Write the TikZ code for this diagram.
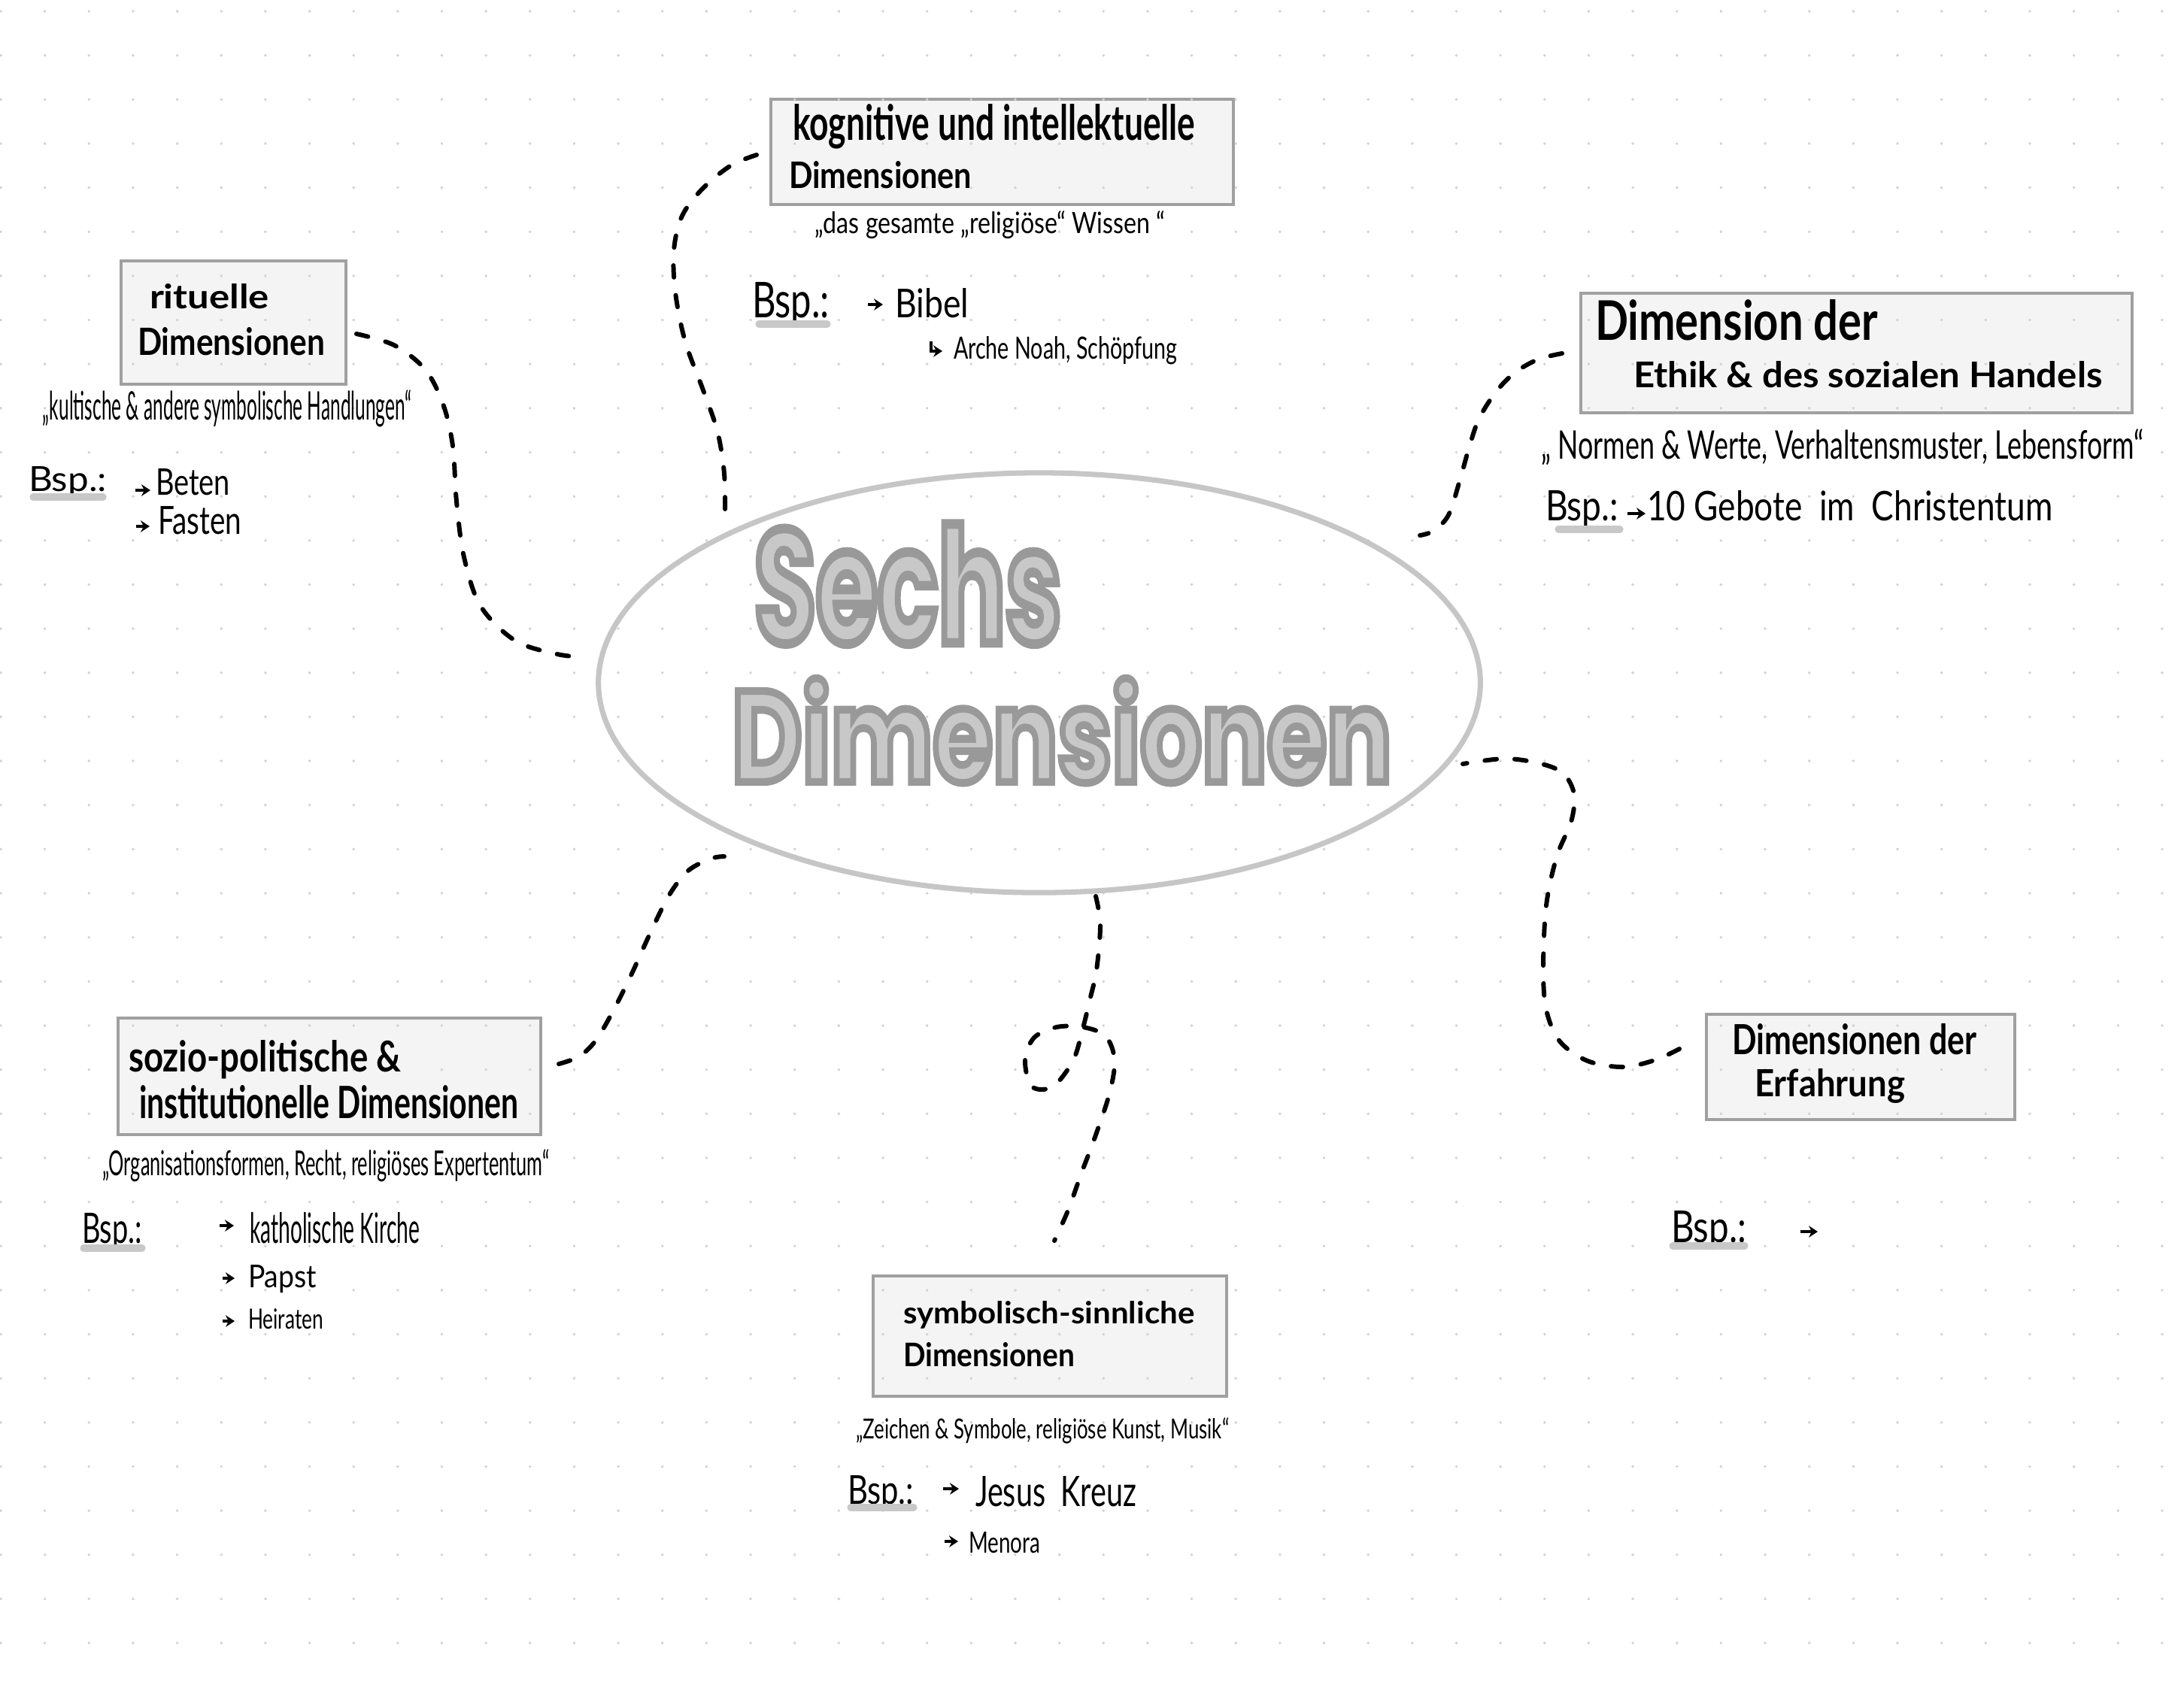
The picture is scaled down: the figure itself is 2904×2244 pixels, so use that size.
\documentclass[tikz,border=0pt]{standalone}
\usepackage{fontspec}
\setmainfont{Lato}
\newfontfamily\bubblefont{Poppins}[FakeBold=6]
\usepackage{graphicx}
\usetikzlibrary{shapes.geometric,fit,arrows.meta}
\newlength\pxu \setlength\pxu{0.1mm}
\newcommand\hw[3]{\resizebox{#1\pxu}{#2\pxu}{#3}}
\newcommand\hb[3]{\resizebox{#1\pxu}{#2\pxu}{\bfseries #3}}
\newcommand\bubbletext[1]{{\fontsize{40}{40}\selectfont\bubblefont\bfseries\special{pdf:bcolor [0.784] [0.6]}#1\special{pdf:ecolor}}}
\definecolor{boxfill}{HTML}{F4F4F4}
\definecolor{boxline}{HTML}{A0A0A0}
\definecolor{dotc}{HTML}{D2D2D2}
\definecolor{ellc}{HTML}{C6C6C6}
\definecolor{barc}{HTML}{C8C8C8}
\tikzset{
 box/.style={draw=boxline, fill=boxfill, line width=0.9pt, inner sep=0pt, rectangle},
 hand/.style={anchor=base west, inner sep=0pt, outer sep=0pt, text=black},
 conn/.style={line width=1.7pt, line cap=round, dash pattern=on 4.5pt off 6.8pt},
 bar/.style={line width=2.6pt, line cap=round, draw=barc},
 barrow/.style={line width=0.95pt, -{Stealth[length=3.4pt,width=4.4pt]}},
}
\begin{document}
\begin{tikzpicture}[x=0.01cm,y=-0.01cm]
\useasboundingbox (0,0) rectangle (2904,2244);
\fill[white] (0,0) rectangle (2904,2244);
% boxes
\node[box, fit={(161,347)(460,511)}] (rit) {};
\node[box, fit={(1025,132)(1640,272)}] (kog) {};
\node[box, fit={(2102,390)(2835,549)}] (eth) {};
\node[box, fit={(157,1354)(719,1509)}] (soz) {};
\node[box, fit={(1161,1697)(1631,1857)}] (sym) {};
\node[box, fit={(2269,1349)(2679,1489)}] (erf) {};
% dot grid
\foreach \i in {0,...,49}{\foreach \j in {0,...,37}{\fill[dotc] (1+58.65*\i,15+58.65*\j) circle[radius=0.55pt];}}
% central ellipse
\node[ellipse, draw=ellc, line width=2pt, minimum width=11.72cm, minimum height=5.58cm, inner sep=0pt] (hub) at (1382,908) {};
\node[hand] (t1) at (1003,855) {\hw{408}{158}{\bubbletext{Sechs}}};
\node[hand] (t2) at (973,1040) {\hw{877}{138}{\bubbletext{Dimensionen}}};
% rituelle
\node[hand] (r1) at (199,410) {\hb{159}{33}{rituelle}};
\node[hand] (r2) at (183,472) {\hb{249}{37}{Dimensionen}};
\node[hand] (rq) at (57,558) {\hw{490}{40}{„kultische \& andere symbolische Handlungen“}};
\node[hand] (rb) at (38,653) {\hw{104}{33}{Bsp.:}};
\draw[bar] (44,661) -- (137,661);
\draw[barrow] (180,652) -- (200,652);
\node[hand] (rx1) at (207,658) {\hw{99}{35}{Beten}};
\draw[barrow] (181,700) -- (199,700);
\node[hand] (rx2) at (210,710) {\hw{111}{37}{Fasten}};
% kognitive
\node[hand] (k1) at (1054,186) {\hb{535}{48}{kognitive und intellektuelle}};
\node[hand] (k2) at (1049,250) {\hb{243}{36}{Dimensionen}};
\node[hand] (kq) at (1083,310) {\hw{466}{30}{„das gesamte „religiöse“ Wissen “}};
\node[hand] (kb) at (1000,422) {\hw{103}{47}{Bsp.:}};
\draw[bar] (1009,431) -- (1100,431);
\draw[barrow] (1154,405) -- (1174,405);
\node[hand] (kx1) at (1190,422) {\hw{98}{39}{Bibel}};
\draw[barrow] (1238,454) |- (1253,467);
\node[hand] (kx2) at (1268,477) {\hw{297}{30}{Arche Noah, Schöpfung}};
% Ethik
\node[hand] (e1) at (2121,452) {\hb{376}{54}{Dimension der}};
\node[hand] (e2) at (2172,515) {\hb{623}{35}{Ethik \& des sozialen Handels}};
\node[hand] (eq) at (2049,610) {\hw{801}{40}{„ Normen \& Werte, Verhaltensmuster, Lebensform“}};
\node[hand] (eb) at (2055,692) {\hw{97}{40}{Bsp.:}};
\draw[bar] (2072,704) -- (2154,704);
\draw[barrow] (2164,683) -- (2188,683);
\node[hand] (ex1) at (2190,692) {\hw{539}{40}{10 Gebote \ im \ Christentum}};
% sozio
\node[hand] (s1) at (171,1425) {\hb{362}{42}{sozio-politische \&}};
\node[hand] (s2) at (185,1487) {\hb{504}{44}{institutionelle Dimensionen}};
\node[hand] (sq) at (136,1563) {\hw{594}{35}{„Organisationsformen, Recht, religiöses Expertentum“}};
\node[hand] (sb) at (109,1653) {\hw{80}{40}{Bsp.:}};
\draw[bar] (111,1660) -- (189,1660);
\draw[barrow] (292,1630) -- (311,1630);
\node[hand] (sx1) at (332,1653) {\hw{226}{41}{katholische Kirche}};
\draw[barrow] (296,1700) -- (312,1700);
\node[hand] (sx2) at (330,1712) {\hw{91}{30}{Papst}};
\draw[barrow] (296,1757) -- (312,1757);
\node[hand] (sx3) at (330,1767) {\hw{100}{27}{Heiraten}};
% symbolisch
\node[hand] (y1) at (1201,1760) {\hb{387}{30}{symbolisch-sinnliche}};
\node[hand] (y2) at (1201,1817) {\hb{228}{32}{Dimensionen}};
\node[hand] (yq) at (1138,1913) {\hw{496}{28}{„Zeichen \& Symbole, religiöse Kunst, Musik“}};
\node[hand] (yb) at (1127,2000) {\hw{88}{38}{Bsp.:}};
\draw[bar] (1131,2005) -- (1215,2005);
\draw[barrow] (1254,1980) -- (1275,1980);
\node[hand] (yx1) at (1297,2003) {\hw{214}{40}{Jesus \ Kreuz}};
\draw[barrow] (1256,2050) -- (1274,2050);
\node[hand] (yx2) at (1288,2065) {\hw{95}{28}{Menora}};
% Erfahrung
\node[hand] (f1) at (2303,1402) {\hb{325}{41}{Dimensionen der}};
\node[hand] (f2) at (2333,1458) {\hb{200}{37}{Erfahrung}};
\node[hand] (fb) at (2222,1652) {\hw{100}{42}{Bsp.:}};
\draw[bar] (2224,1657) -- (2320,1657);
\draw[barrow] (2394,1638) -- (2417,1638);
% connector end points
\coordinate (ra) at (474,444); \coordinate (rz) at (778,874);
\coordinate (ka) at (1006,206); \coordinate (kz) at (964,688);
\coordinate (ea) at (2077,470); \coordinate (ez) at (1888,712);
\coordinate (sa) at (743,1415); \coordinate (sz) at (963,1139);
\coordinate (fa) at (2233,1395); \coordinate (fz) at (1945,1016);
\coordinate (ya) at (1402,1650); \coordinate (yz) at (1457,1192);
% connectors
\draw[conn] plot[smooth, tension=0.55] coordinates {(ra) (524,459) (565,491) (589,537) (602,593) (607,667) (617,741) (639,806) (685,852) (741,870) (rz)};
\draw[conn] plot[smooth, tension=0.55] coordinates {(ka) (972,220) (935,250) (907,287) (896,333) (898,389) (911,454) (935,519) (954,574) (963,630) (kz)};
\draw[conn] plot[smooth, tension=0.55] coordinates {(ea) (2045,478) (2015,495) (1990,520) (1967,556) (1954,593) (1941,639) (1926,685) (1906,706) (ez)};
\draw[conn] plot[smooth, tension=0.55] coordinates {(sa) (770,1405) (792,1384) (815,1345) (840,1295) (865,1240) (890,1190) (915,1158) (945,1142) (sz)};
\draw[conn] plot[smooth, tension=0.55] coordinates {(fa) (2200,1410) (2158,1419) (2111,1411) (2074,1385) (2056,1343) (2052,1287) (2056,1204) (2070,1139) (2089,1093) (2093,1056) (2078,1028) (2046,1015) (2000,1009) (fz)};
\draw[conn] plot[smooth, tension=0.55] coordinates {(yz) (1463,1230) (1458,1290) (1449,1330) (1440,1367) (1427,1410) (1400,1445) (1372,1445) (1363,1410) (1375,1380) (1405,1366) (1440,1366) (1470,1378) (1482,1410) (1475,1455) (1455,1515) (1438,1560) (1420,1610) (ya)};
\end{tikzpicture}
\end{document}
